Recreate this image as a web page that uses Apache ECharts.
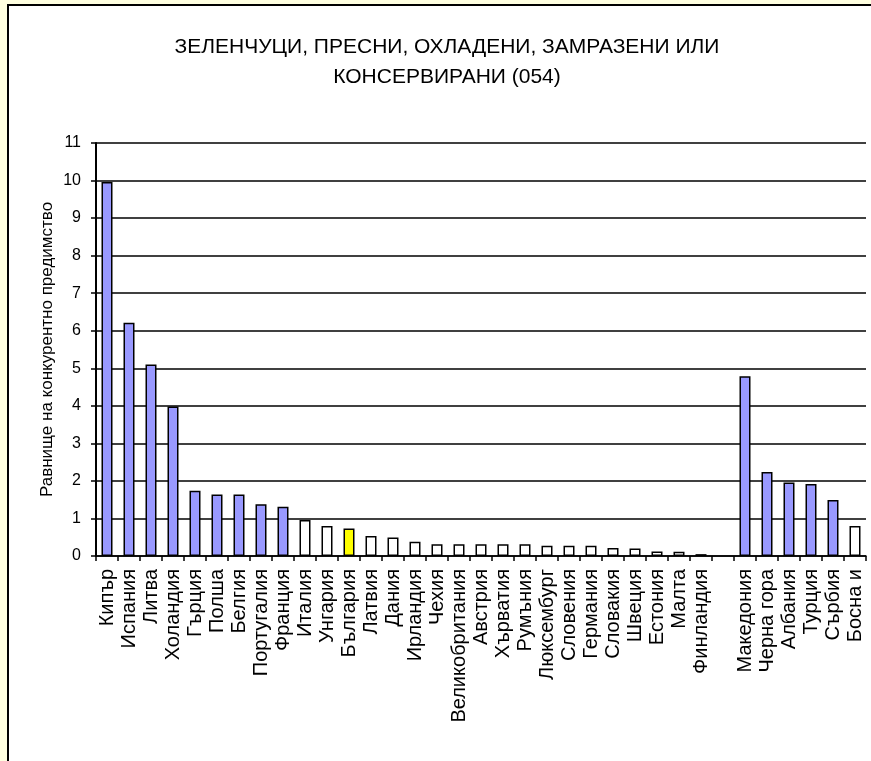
<!DOCTYPE html>
<html>
<head>
<meta charset="utf-8">
<script src="https://cdn.jsdelivr.net/npm/echarts@6/dist/echarts.min.js"></script>
<style>
html,body{margin:0;padding:0;width:871px;height:761px;overflow:hidden;background:#FFFFE0;}
#frame{position:absolute;left:7px;top:4px;width:880px;height:780px;border-left:2.5px solid #000;border-top:2.5px solid #000;background:#fff;}
#chart{position:absolute;left:0;top:0;width:871px;height:761px;}
</style>
</head>
<body>
<div id="frame"></div>
<div id="chart"></div>
<script>
const titleText = 'ЗЕЛЕНЧУЦИ, ПРЕСНИ, ОХЛАДЕНИ, ЗАМРАЗЕНИ ИЛИ\nКОНСЕРВИРАНИ (054)';
const yAxisName = 'Равнище на конкурентно предимство';
const categories = ['Кипър','Испания','Литва','Холандия','Гърция','Полша','Белгия','Португалия','Франция','Италия','Унгария','България','Латвия','Дания','Ирландия','Чехия','Великобритания','Австрия','Хърватия','Румъния','Люксембург','Словения','Германия','Словакия','Швеция','Естония','Малта','Финландия','','Македония','Черна гора','Албания','Турция','Сърбия','Босна и'];
const values = [9.96,6.21,5.10,3.98,1.74,1.64,1.64,1.38,1.31,0.96,0.80,0.73,0.53,0.49,0.38,0.31,0.31,0.31,0.31,0.31,0.27,0.27,0.27,0.21,0.20,0.12,0.11,0.05,null,4.79,2.24,1.96,1.92,1.49,0.80];
const blueCategories = ['Кипър','Испания','Литва','Холандия','Гърция','Полша','Белгия','Португалия','Франция','Македония','Черна гора','Албания','Турция','Сърбия'];
const highlightCategory = 'България';
const yMin = 0, yMax = 11, yStep = 1;

const FONT = '"Liberation Sans", Arial, sans-serif';
const chart = echarts.init(document.getElementById('chart'), null, {renderer:'canvas'});
const data = values.map((v, i) => {
  const c = categories[i];
  let color = '#FFFFFF';
  if (blueCategories.includes(c)) color = '#9999FF';
  if (c === highlightCategory) color = '#FFFF00';
  return {value: v, itemStyle: {color: color, borderColor: '#000', borderWidth: 1.5}};
});
chart.setOption({
  backgroundColor: 'transparent',
  animation: false,
  title: {
    text: titleText,
    left: 442, top: 27, textAlign: 'center',
    textStyle: {fontFamily: FONT, fontSize: 21, fontWeight: 'normal', color: '#000', lineHeight: 30}
  },
  grid: {left: 96, right: 5, top: 143, bottom: 205, containLabel: false},
  xAxis: {
    type: 'category',
    data: categories,
    boundaryGap: true,
    axisLine: {lineStyle: {color: '#000', width: 1.5}},
    axisTick: {show: true, length: 5, inside: false, lineStyle: {color: '#000', width: 1.5}, alignWithLabel: false},
    axisLabel: {rotate: 90, interval: 0, fontFamily: FONT, fontSize: 20, color: '#000', margin: 13}
  },
  yAxis: {
    type: 'value',
    min: yMin, max: yMax, interval: yStep,
    name: yAxisName,
    nameLocation: 'middle',
    nameRotate: 90,
    nameGap: 40,
    nameMoveOverlap: false,
    nameTextStyle: {fontFamily: FONT, fontSize: 17, color: '#000'},
    axisLine: {show: true, lineStyle: {color: '#000', width: 2}},
    axisTick: {show: true, length: 5, lineStyle: {color: '#000', width: 1.5}},
    axisLabel: {fontFamily: FONT, fontSize: 16, color: '#000', margin: 15},
    splitLine: {show: true, lineStyle: {color: '#000', width: 1.5}}
  },
  series: [{
    type: 'bar',
    data: data,
    barWidth: '50%'
  }]
});
</script>
</body>
</html>
